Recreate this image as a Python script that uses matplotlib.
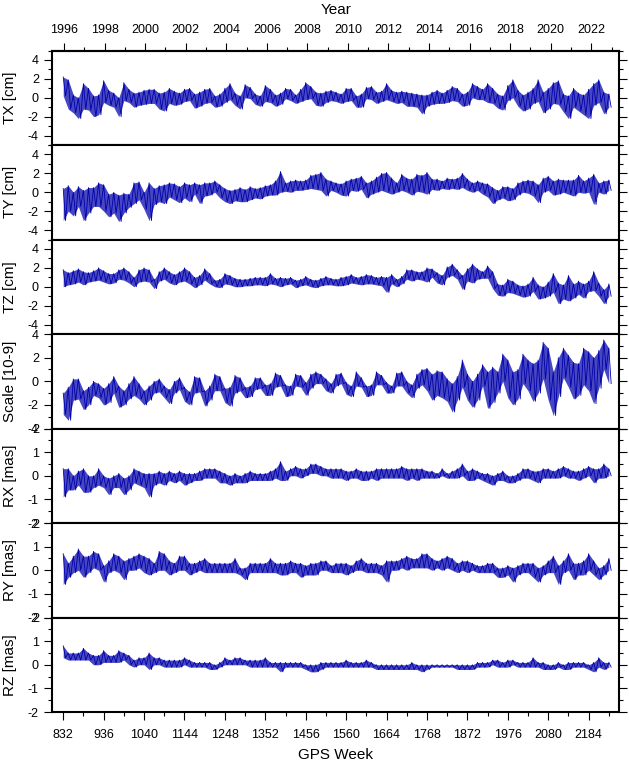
# Weekly Helmert parameter time series (TX, TY, TZ, scale, RX, RY, RZ) vs GPS week

import numpy as np
import matplotlib
matplotlib.use('Agg')
import matplotlib.pyplot as plt
from matplotlib.ticker import MultipleLocator

plt.rcParams['font.family'] = ['Liberation Sans', 'DejaVu Sans']
plt.rcParams['axes.unicode_minus'] = False

# quarterly bins of 13 GPS weeks (832 ... 2236); per bin the upper and lower
# extent reached by the weekly series
week_first = 832
week_last = 2236
bin_weeks = 13

tx_hi = [2.2, 1.9, 0.3, 0.0, 1.5, 1.0, 0.2, 0.3, 1.8, 0.8, 0.5, 0.0, 1.6, 0.9, 0.5, 0.6, 0.8, 0.9, 0.9, 0.5,
         0.6, 1.0, 0.7, 0.5, 0.9, 1.0, 0.4, 0.6, 0.9, 1.0, 0.2, 0.4, 1.0, 1.5, 0.5, 0.2, 1.4, 1.1, 0.4, 0.2,
         1.3, 0.9, 0.3, 0.5, 1.0, 0.9, 0.3, 0.9, 1.6, 1.2, 0.6, 0.5, 0.7, 0.8, 0.6, 0.4, 1.0, 1.0, 0.2, 0.4,
         1.1, 1.2, 0.6, 0.7, 1.5, 0.8, 0.6, 0.7, 0.6, 0.5, 0.4, 0.3, 0.3, 0.6, 0.8, 0.5, 0.8, 1.2, 1.0, 0.4,
         0.6, 1.5, 1.2, 0.9, 1.5, 1.0, 0.4, 0.2, 1.3, 1.9, 0.8, 0.3, 0.6, 1.0, 1.9, 0.6, 1.0, 1.6, 1.8, 0.4,
         0.2, 1.0, 0.5, 0.3, 0.9, 1.5, 1.9, 0.6, 0.4]
tx_lo = [0.2, -1.2, -1.6, -2.2, -1.2, -1.3, -2.0, -1.8, -0.5, -0.8, -1.0, -2.0, -0.3, -0.5, -1.0, -0.8, -0.7, -0.6, -0.6, -1.2,
         -1.4, -0.6, -0.8, -0.7, -0.4, -0.3, -1.1, -0.9, -0.6, -0.5, -1.0, -0.9, -0.5, -0.2, -0.8, -1.2, 0.0, -0.1, -0.7, -0.9,
         -0.4, -0.5, -0.9, -0.7, -0.1, -0.3, -0.6, -0.4, -0.2, -0.1, -0.8, -0.9, -0.5, -0.3, -0.4, -0.6, -0.4, -0.3, -1.0, -1.0,
         -0.1, -0.2, -0.6, -0.4, -0.2, -0.4, -0.6, -0.5, -0.9, -0.9, -1.0, -1.7, -0.9, -0.7, -0.6, -0.6, -0.5, -0.3, -0.4, -0.9,
         -0.8, 0.0, -0.2, -0.2, -0.5, -0.6, -1.1, -1.3, -0.3, 0.0, -0.9, -1.4, -1.2, -0.6, -0.4, -1.6, -1.2, -0.6, -0.7, -1.5,
         -2.2, -1.0, -1.4, -1.8, -2.2, -0.8, -0.5, -1.7, -1.0]

ty_hi = [0.4, 0.7, 0.0, 0.6, 0.2, 0.5, 0.5, 1.0, 0.8, -0.2, 0.0, -0.3, -0.1, -0.2, 1.0, 1.1, 0.0, 1.0, 0.4, 0.7,
         0.8, 1.0, 0.9, 0.6, 1.0, 0.8, 1.0, 0.8, 1.0, 1.0, 1.2, 0.8, 0.4, 0.2, 0.3, 0.5, 0.3, 0.6, 0.4, 0.5,
         0.7, 0.8, 1.2, 2.2, 1.0, 1.2, 1.3, 1.2, 1.3, 1.8, 1.9, 2.1, 1.4, 1.2, 1.0, 0.9, 1.2, 1.4, 1.5, 1.7,
         1.0, 1.2, 1.6, 2.0, 2.1, 1.5, 1.0, 1.9, 1.5, 1.4, 1.9, 1.8, 2.1, 1.4, 1.4, 1.2, 1.5, 1.4, 1.5, 2.0,
         1.4, 1.0, 1.2, 1.0, 0.9, 0.5, 0.2, 0.6, 0.6, 0.4, 1.0, 1.2, 1.3, 1.2, 0.8, 1.5, 1.7, 1.2, 1.4, 1.3,
         1.3, 1.3, 1.8, 1.2, 1.5, 1.9, 1.0, 1.2, 1.3]
ty_lo = [-3.0, -2.0, -2.5, -1.5, -3.0, -2.2, -1.5, -1.5, -2.0, -2.6, -2.2, -3.1, -2.2, -1.6, -1.2, -0.8, -1.8, -3.0, -1.3, -1.0,
         -1.2, -0.5, -0.8, -1.1, -0.6, -1.0, -0.2, -1.2, -0.4, -0.3, 0.0, -0.6, -1.0, -1.2, -0.9, -1.0, -1.0, -0.8, -0.6, -0.7,
         -0.4, -0.3, -0.3, 0.0, 0.1, 0.0, 0.2, 0.2, 0.3, 0.4, 0.3, 0.2, -0.4, 0.2, 0.0, -0.3, -0.4, 0.2, 0.1, 0.3,
         -0.6, -0.2, 0.0, 0.2, 0.0, -0.2, 0.0, 0.2, 0.0, -0.3, 0.1, 0.0, -0.2, 0.3, 0.2, 0.4, 0.3, 0.4, 0.3, 0.5,
         0.2, 0.0, 0.2, -0.2, -0.5, -1.2, -0.8, -0.6, -0.9, -0.8, -0.3, 0.0, -0.1, -0.4, -1.1, 0.0, 0.2, -0.3, -0.2, 0.0,
         -0.2, -0.4, 0.0, -0.1, 0.0, -1.3, 0.0, -0.2, 0.2]

tz_hi = [1.8, 1.5, 1.7, 1.9, 1.6, 1.5, 1.7, 2.0, 1.7, 1.4, 1.4, 1.8, 2.0, 1.6, 1.0, 1.8, 2.0, 1.8, 0.8, 1.6,
         2.0, 1.6, 1.3, 1.6, 2.0, 1.6, 1.0, 1.2, 1.9, 1.4, 0.7, 0.8, 1.4, 1.2, 0.9, 0.8, 0.8, 0.9, 1.0, 1.0,
         1.0, 1.4, 0.9, 1.0, 0.9, 1.0, 0.7, 0.8, 1.1, 0.8, 0.7, 0.9, 1.1, 0.9, 0.8, 1.0, 1.1, 1.3, 1.0, 1.1,
         1.3, 1.2, 1.0, 1.1, 1.0, 1.3, 0.8, 1.1, 1.8, 1.8, 1.6, 1.6, 2.0, 1.9, 1.5, 1.2, 2.1, 2.4, 1.8, 1.2,
         1.9, 2.4, 1.9, 1.6, 2.2, 1.6, 0.3, 0.2, 0.8, 0.6, 0.2, 0.1, 0.3, 1.0, 0.2, 0.0, 0.5, 1.4, 0.4, 0.2,
         1.2, 0.3, 0.6, 0.3, 0.6, 1.6, 0.4, -0.3, 0.3]
tz_lo = [0.0, 0.2, 0.3, 0.5, 0.2, 0.5, 0.6, 0.7, 0.5, 0.3, 0.4, 0.8, 0.7, 0.4, 0.0, 0.5, 0.6, 0.5, -0.2, 0.6,
         0.8, 0.4, 0.2, 0.5, 0.6, 0.3, -0.1, 0.2, 0.7, 0.3, 0.0, -0.1, 0.3, 0.2, 0.0, 0.0, 0.1, 0.1, 0.2, 0.2,
         0.1, 0.3, 0.2, 0.0, 0.2, 0.3, -0.1, 0.1, 0.2, 0.0, -0.1, 0.1, 0.2, 0.2, 0.1, 0.1, 0.2, 0.4, 0.3, 0.2,
         0.3, 0.3, 0.2, 0.1, -0.6, 0.3, 0.0, 0.3, 0.8, 0.6, 0.8, 0.7, 0.5, 1.0, 0.4, 0.2, 1.0, 1.2, 0.8, -0.3,
         0.6, 0.4, 0.8, 0.9, 0.9, -0.2, -0.9, -1.0, -0.6, -0.7, -0.9, -1.1, -1.0, -0.5, -1.3, -1.2, -1.0, -0.6, -1.8, -1.3,
         -1.5, -1.2, -0.8, -1.2, -0.5, -0.4, -1.0, -1.8, -1.0]

scale_hi = [-1.0, -0.5, 0.2, 0.2, -0.8, -0.5, 0.0, -0.2, -0.6, -0.2, 0.4, -0.4, -0.8, -0.2, 0.4, -0.2, -0.8, -0.4, 0.0, 0.2,
            -0.4, -0.7, 0.0, 0.3, -0.5, -0.9, 0.4, 0.3, -0.8, -0.4, 0.6, 0.4, -0.6, -0.5, 0.5, 0.3, -0.5, -0.4, 0.3, 0.3,
            -0.3, -0.2, 0.7, 0.5, -0.3, -0.4, 0.6, 0.5, -0.1, 0.6, 0.8, 0.6, 0.2, -0.2, 0.6, 0.7, -0.1, -0.4, 0.8, 0.3,
            -0.4, -0.3, 0.8, 0.5, -0.1, -0.4, 0.7, 0.8, 0.0, -0.3, 0.6, 1.0, 1.1, 0.6, 0.9, 0.8, 0.2, -0.2, 0.4, 1.8,
            0.6, 0.0, 0.6, 1.4, 0.8, 1.2, 0.8, 2.3, 1.8, 0.8, 1.0, 2.3, 1.8, 1.5, 1.8, 3.3, 2.8, 0.8, 2.0, 2.8,
            2.2, 1.6, 1.5, 2.8, 2.5, 2.0, 2.6, 3.5, 2.8]
scale_lo = [-2.8, -3.3, -1.6, -1.5, -2.4, -2.0, -1.2, -1.4, -2.0, -1.8, -1.0, -2.2, -2.0, -1.5, -1.2, -1.5, -2.0, -1.6, -1.0, -0.9,
            -1.4, -1.9, -1.0, -0.7, -1.7, -2.0, -1.0, -0.9, -2.1, -1.6, -0.8, -0.8, -1.8, -2.1, -1.0, -0.8, -1.4, -1.3, -0.7, -0.6,
            -1.2, -1.2, -0.5, -0.4, -1.3, -1.2, -0.4, -0.5, -1.2, -0.6, -0.2, -0.2, -0.8, -1.0, -0.4, -0.2, -1.1, -1.3, -0.4, -0.5,
            -1.3, -1.2, -0.3, -0.3, -1.0, -1.0, -0.4, -0.4, -1.0, -1.4, -0.6, -0.3, -0.8, -1.6, -1.2, -1.4, -1.7, -2.6, -1.6, -0.5,
            -1.6, -2.2, -1.6, -0.4, -2.3, -1.8, -1.0, 0.0, -1.4, -2.0, -1.5, -0.2, -0.8, -1.7, -1.0, 0.2, -1.6, -2.9, -1.3, 0.3,
            -0.5, -1.5, -1.2, -0.3, -0.8, -1.9, -0.6, 1.0, -0.2]

rx_hi = [0.3, 0.3, 0.0, 0.2, 0.3, 0.0, 0.0, 0.3, 0.0, -0.1, 0.0, 0.1, -0.1, 0.0, 0.3, 0.2, 0.1, 0.1, 0.1, 0.2,
         0.1, 0.2, 0.1, 0.2, 0.1, 0.1, 0.1, 0.2, 0.3, 0.3, 0.3, 0.2, 0.1, 0.0, 0.1, 0.0, 0.1, 0.2, 0.1, 0.1,
         0.1, 0.2, 0.3, 0.6, 0.2, 0.3, 0.4, 0.3, 0.3, 0.5, 0.5, 0.4, 0.3, 0.3, 0.3, 0.3, 0.2, 0.2, 0.3, 0.2,
         0.2, 0.2, 0.3, 0.3, 0.3, 0.3, 0.3, 0.4, 0.3, 0.3, 0.3, 0.3, 0.2, 0.2, 0.1, 0.3, 0.1, 0.2, 0.3, 0.5,
         0.2, 0.3, 0.2, 0.1, 0.1, 0.0, 0.1, 0.2, 0.0, 0.0, 0.1, 0.3, 0.3, 0.2, 0.2, 0.3, 0.3, 0.2, 0.3, 0.4,
         0.3, 0.2, 0.2, 0.3, 0.4, 0.3, 0.3, 0.5, 0.3]
rx_lo = [-0.9, -0.6, -0.6, -0.4, -0.7, -0.7, -0.5, -0.4, -0.5, -0.8, -0.5, -0.5, -0.8, -0.6, -0.3, -0.4, -0.5, -0.9, -0.4, -0.3,
         -0.4, -0.2, -0.3, -0.2, -0.4, -0.3, -0.2, -0.2, -0.1, -0.1, -0.1, -0.3, -0.3, -0.4, -0.3, -0.3, -0.3, -0.2, -0.2, -0.2,
         -0.2, -0.2, -0.1, -0.2, -0.2, 0.0, 0.0, -0.1, 0.0, 0.1, 0.1, 0.0, 0.0, -0.1, -0.1, -0.1, -0.2, -0.1, -0.1, -0.2,
         -0.2, -0.1, -0.2, -0.1, -0.1, -0.1, -0.1, -0.1, -0.2, -0.1, -0.2, -0.1, -0.1, -0.1, -0.1, 0.0, -0.1, -0.1, -0.1, 0.0,
         -0.2, -0.2, -0.1, -0.2, -0.3, -0.4, -0.2, -0.2, -0.3, -0.3, -0.2, -0.1, -0.1, -0.2, -0.3, -0.1, -0.1, -0.1, -0.1, 0.0,
         -0.1, -0.1, -0.2, -0.1, 0.0, -0.3, -0.1, -0.1, 0.0]

ry_hi = [0.7, 0.3, 0.6, 0.9, 0.6, 0.6, 0.8, 0.7, 0.2, 0.4, 0.7, 0.6, 0.4, 0.5, 0.6, 0.7, 0.6, 0.5, 0.3, 0.8,
         0.7, 0.4, 0.3, 0.6, 0.6, 0.3, 0.3, 0.4, 0.5, 0.3, 0.3, 0.3, 0.3, 0.3, 0.5, 0.1, 0.1, 0.3, 0.3, 0.3,
         0.3, 0.5, 0.3, 0.3, 0.3, 0.4, 0.3, 0.3, 0.2, 0.3, 0.3, 0.4, 0.4, 0.2, 0.3, 0.3, 0.3, 0.2, 0.4, 0.5,
         0.3, 0.3, 0.3, 0.2, 0.4, 0.4, 0.4, 0.5, 0.6, 0.5, 0.5, 0.7, 0.7, 0.5, 0.4, 0.5, 0.6, 0.5, 0.3, 0.4,
         0.4, 0.3, 0.2, 0.2, 0.3, 0.3, 0.1, 0.1, 0.2, 0.1, 0.2, 0.3, 0.3, 0.3, 0.1, 0.2, 0.4, 0.6, 0.2, 0.4,
         0.7, 0.3, 0.3, 0.4, 0.7, 0.4, 0.1, 0.2, 0.5]
ry_lo = [-0.6, -0.3, -0.1, 0.0, -0.3, -0.1, 0.1, 0.0, -0.5, -0.1, 0.0, -0.1, -0.4, 0.0, 0.0, 0.1, -0.1, -0.2, -0.1, 0.0,
         0.0, -0.2, -0.1, 0.0, 0.0, -0.2, -0.1, 0.0, -0.1, -0.1, -0.1, -0.1, -0.1, -0.1, -0.1, -0.2, -0.4, -0.1, -0.1, -0.1,
         -0.1, -0.1, -0.1, -0.2, -0.2, -0.1, -0.1, -0.3, -0.2, -0.2, -0.2, 0.0, 0.0, -0.1, -0.1, -0.1, -0.2, -0.1, 0.0, 0.0,
         -0.1, -0.1, -0.1, -0.2, -0.5, 0.0, 0.0, 0.1, 0.0, 0.1, 0.1, 0.1, 0.1, 0.0, 0.1, 0.0, 0.1, 0.0, -0.1, 0.0,
         -0.1, 0.0, -0.1, -0.1, -0.1, -0.1, -0.3, -0.3, -0.2, -0.5, -0.2, -0.1, -0.1, -0.3, -0.5, -0.2, -0.1, -0.1, -0.6, -0.1,
         0.0, -0.4, -0.2, -0.2, 0.0, -0.2, -0.4, -0.2, 0.0]

rz_hi = [0.8, 0.5, 0.5, 0.5, 0.7, 0.5, 0.4, 0.4, 0.6, 0.4, 0.4, 0.6, 0.5, 0.4, 0.2, 0.3, 0.3, 0.5, 0.3, 0.3,
         0.2, 0.2, 0.2, 0.2, 0.3, 0.2, 0.1, 0.1, 0.1, 0.1, 0.0, 0.1, 0.3, 0.2, 0.3, 0.3, 0.2, 0.2, 0.2, 0.2,
         0.3, 0.1, 0.1, 0.1, 0.1, 0.1, 0.1, 0.1, 0.0, 0.0, 0.0, 0.1, 0.1, 0.1, 0.1, 0.1, 0.2, 0.1, 0.1, 0.1,
         0.2, 0.1, 0.0, 0.0, 0.0, 0.0, 0.0, 0.0, 0.0, 0.1, 0.0, 0.0, 0.0, 0.0, 0.0, 0.0, 0.0, 0.0, 0.0, 0.0,
         0.0, 0.0, 0.1, 0.1, 0.1, 0.2, 0.2, 0.1, 0.2, 0.2, 0.1, 0.1, 0.1, 0.3, 0.1, 0.1, 0.0, 0.0, 0.1, 0.0,
         0.1, 0.1, 0.1, 0.1, 0.0, 0.1, 0.3, 0.1, 0.1]
rz_lo = [0.3, 0.2, 0.2, 0.2, 0.2, 0.2, 0.0, 0.0, 0.1, 0.1, 0.1, 0.1, 0.2, 0.0, -0.1, 0.0, 0.0, -0.2, 0.0, 0.0,
         -0.1, -0.1, -0.1, -0.1, 0.0, -0.1, -0.1, -0.1, -0.1, -0.2, -0.2, -0.1, 0.0, 0.0, 0.0, 0.0, 0.0, -0.1, -0.1, -0.1,
         -0.1, -0.1, -0.1, -0.3, -0.1, -0.1, -0.1, -0.1, -0.2, -0.3, -0.3, -0.2, -0.1, -0.1, -0.1, -0.1, -0.1, -0.1, -0.1, -0.1,
         -0.1, -0.1, -0.2, -0.2, -0.2, -0.2, -0.2, -0.2, -0.2, -0.2, -0.2, -0.3, -0.2, -0.1, -0.1, -0.1, -0.1, -0.1, -0.2, -0.2,
         -0.2, -0.2, -0.1, -0.1, -0.1, 0.0, -0.1, -0.1, -0.1, 0.0, -0.1, -0.1, -0.1, -0.1, -0.1, -0.2, -0.2, -0.2, -0.1, -0.2,
         -0.2, -0.1, -0.1, -0.1, -0.2, -0.3, -0.1, -0.2, -0.1]

# label, upper, lower, y limits, major step, minor step
panels = [
    ('TX [cm]', tx_hi, tx_lo, (-5, 5), 2, 1),
    ('TY [cm]', ty_hi, ty_lo, (-5, 5), 2, 1),
    ('TZ [cm]', tz_hi, tz_lo, (-5, 5), 2, 1),
    ('Scale [10-9]', scale_hi, scale_lo, (-4, 4), 2, 1),
    ('RX [mas]', rx_hi, rx_lo, (-2, 2), 1, 0.5),
    ('RY [mas]', ry_hi, ry_lo, (-2, 2), 1, 0.5),
    ('RZ [mas]', rz_hi, rz_lo, (-2, 2), 1, 0.5),
]

weeks = np.arange(week_first, week_last + 1, bin_weeks)
x = np.column_stack([weeks, weeks + bin_weeks // 2]).ravel()

# GPS week 0 starts 1980-01-06
gps_epoch = 1980 + 5 / 365.25


def week_to_year(w):
    return gps_epoch + np.asarray(w) * 7 / 365.25


def year_to_week(y):
    return (np.asarray(y) - gps_epoch) * 365.25 / 7


line_color = '#0000aa'
tick_size = 9
label_size = 11

fig, axes = plt.subplots(7, 1, figsize=(6.29, 7.63), dpi=100, sharex=True)
fig.subplots_adjust(left=0.0832, right=0.984, top=0.9338, bottom=0.0668, hspace=0)

for ax, (label, hi, lo, ylim, major, minor) in zip(axes, panels):
    # dense weekly noise: band between the extents, zigzag through them for texture
    ax.fill_between(weeks, lo, hi, color=line_color, alpha=0.72, lw=0)
    y = np.column_stack([hi, lo]).ravel()
    ax.plot(x, y, color=line_color, lw=0.6)
    ax.set_ylim(*ylim)
    ax.yaxis.set_major_locator(MultipleLocator(major))
    ax.yaxis.set_minor_locator(MultipleLocator(minor))
    ax.tick_params(axis='y', which='both', direction='out', left=True, right=True,
                   labelsize=tick_size, width=0.8, pad=3.6)
    ax.tick_params(axis='y', which='major', length=6)
    ax.tick_params(axis='y', which='minor', length=3)
    ax.tick_params(axis='x', which='both', bottom=False, top=False, labelbottom=False)
    for s in ax.spines.values():
        s.set_linewidth(1.5)
    ax.set_ylabel(label, fontsize=label_size)
    ax.yaxis.set_label_coords(-0.0755, 0.5)
    ax.yaxis.label.set_va('center')

axes[0].set_xlim(804, 2262)

# bottom axis: GPS week
bottom = axes[-1]
bottom.xaxis.set_major_locator(MultipleLocator(104))
bottom.xaxis.set_minor_locator(MultipleLocator(52))
bottom.tick_params(axis='x', which='both', bottom=True, labelbottom=True, direction='out',
                   labelsize=tick_size, width=0.8, pad=6.3)
bottom.tick_params(axis='x', which='major', length=6)
bottom.tick_params(axis='x', which='minor', length=3)
bottom.set_xlabel('GPS Week', fontsize=label_size, labelpad=5)

# top axis: calendar year
top = axes[0].secondary_xaxis('top', functions=(week_to_year, year_to_week))
top.set_xticks(np.arange(1996, 2023, 2))
top.xaxis.set_minor_locator(MultipleLocator(1))
top.tick_params(axis='x', which='both', direction='out', labelsize=tick_size, width=0.8, pad=4.6)
top.tick_params(axis='x', which='major', length=6)
top.tick_params(axis='x', which='minor', length=3)
top.spines['top'].set_linewidth(1.5)
top.set_xlabel('Year', fontsize=label_size, labelpad=7)

fig.savefig('out.png', dpi=100)
